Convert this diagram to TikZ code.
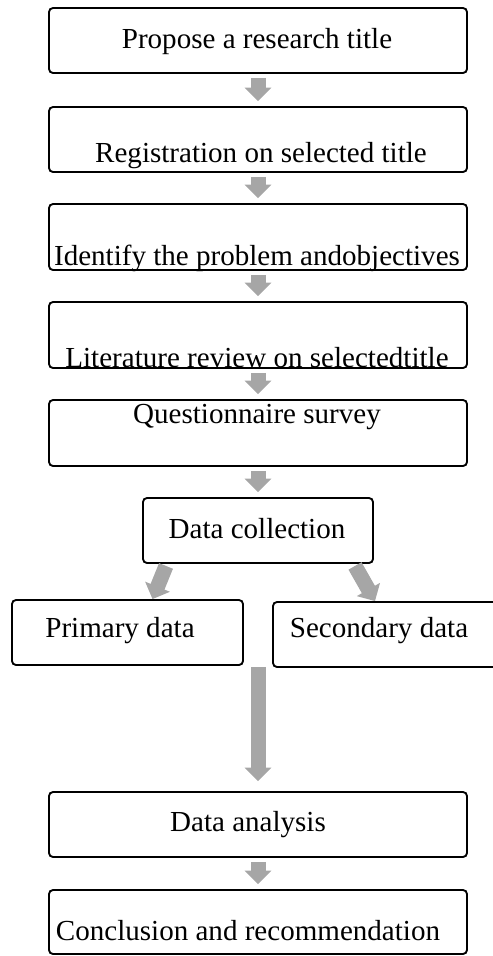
\documentclass[tikz,border=0pt]{standalone}
\usepackage{fontspec}
\setmainfont{Liberation Serif}
\usepackage{tikz}
\usetikzlibrary{positioning,arrows.meta,calc}
\definecolor{arrowgray}{RGB}{166,166,166}
\tikzset{
  blockarrow/.style={-{Triangle[width=0.78cm, length=0.4cm]}, line width=0.45cm, draw=arrowgray},
  stagebox/.style={draw, rounded corners=0.12cm, line width=1.6pt, fill=white, minimum width=12.54cm, minimum height=1.95cm, inner sep=0pt},
  subbox/.style={stagebox, minimum width=6.93cm},
  boxtext/.style={anchor=base, inner sep=0pt, font=\fontsize{24.8}{29}\selectfont}
}

\begin{document}
\begin{tikzpicture}
  \useasboundingbox (0,0) rectangle (14.79,-28.68);
  % boxes
  \node[stagebox] (propose) at (7.74,-1.215) {};
  \node[stagebox] (register) at (7.74,-4.185) {};
  \node[stagebox, minimum height=1.98cm] (problem) at (7.74,-7.11) {};
  \node[stagebox, minimum height=1.98cm] (review) at (7.74,-10.05) {};
  \node[stagebox, minimum height=1.98cm] (survey) at (7.74,-12.99) {};
  \node[stagebox, minimum width=6.9cm] (collect) at (7.74,-15.915) {};
  \node[subbox] (primary) at (3.825,-18.975) {};
  \node[subbox, minimum width=6.96cm] (secondary) at (11.67,-19.035) {};
  \node[stagebox] (analysis) at (7.74,-24.735) {};
  \node[stagebox, minimum height=1.92cm] (conclude) at (7.74,-27.66) {};
  % texts
  \node[boxtext] (t1) at (7.71,-1.44) {Propose a research title};
  \node[boxtext] (t2) at (7.83,-4.86) {Registration on selected title};
  \node[boxtext] (t3) at (7.71,-7.95) {Identify the problem andobjectives};
  \node[boxtext] (t4) at (7.71,-11.01) {Literature review on selectedtitle};
  \node[boxtext] (t5) at (7.71,-12.69) {Questionnaire survey};
  \node[boxtext] (t6) at (7.71,-16.14) {Data collection};
  \node[boxtext] (t7) at (3.6,-19.11) {Primary data};
  \node[boxtext] (t8) at (11.37,-19.11) {Secondary data};
  \node[boxtext] (t9) at (7.44,-24.93) {Data analysis};
  \node[boxtext] (t10) at (7.44,-28.2) {Conclusion and recommendation};
  % arrows
  \draw[blockarrow, shorten <=0.12cm, shorten >=0.15cm] (propose) -- (register);
  \draw[blockarrow, shorten <=0.12cm, shorten >=0.15cm] (register) -- (problem);
  \draw[blockarrow, shorten <=0.12cm, shorten >=0.15cm] (problem) -- (review);
  \draw[blockarrow, shorten <=0.12cm, shorten >=0.15cm] (review) -- (survey);
  \draw[blockarrow, shorten <=0.12cm, shorten >=0.15cm] (survey) -- (collect);
  \draw[blockarrow] ([xshift=-2.76cm, yshift=-0.06cm]collect.south) -- ([xshift=0.75cm]primary.north);
  \draw[blockarrow] ([xshift=2.91cm, yshift=-0.06cm]collect.south) -- ([xshift=-0.42cm]secondary.north);
  \coordinate (gap) at ($(primary.south east)!0.5!(secondary.south west)$);
  \draw[blockarrow, shorten >=0.3cm] (gap) -- (gap |- analysis.north);
  \draw[blockarrow, shorten <=0.12cm, shorten >=0.15cm] (analysis) -- (conclude);
\end{tikzpicture}
\end{document}
